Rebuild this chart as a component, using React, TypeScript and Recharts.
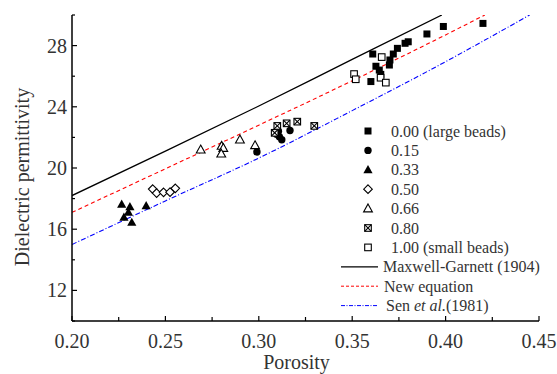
import React from "react";
import { ComposedChart, Line, Scatter, XAxis, YAxis, Legend } from "recharts";

type Pt = { x: number; y: number };

// axis ticks (minor + major)
const xTicks = [0.2, 0.225, 0.25, 0.275, 0.3, 0.325, 0.35, 0.375, 0.4, 0.425, 0.45];
const xMajor = [0.2, 0.25, 0.3, 0.35, 0.4, 0.45];
const yTicks = [10, 12, 14, 16, 18, 20, 22, 24, 26, 28, 30];
const yMajor = [12, 16, 20, 24, 28];

// measured points, one array per bead mixture
const beads000: Pt[] = [
  { x: 0.361, y: 27.45 }, { x: 0.36, y: 25.65 }, { x: 0.3627, y: 26.65 },
  { x: 0.3645, y: 26.4 }, { x: 0.3653, y: 26.12 }, { x: 0.3699, y: 26.73 },
  { x: 0.3702, y: 27.06 }, { x: 0.372, y: 27.45 }, { x: 0.3742, y: 27.82 },
  { x: 0.3783, y: 28.15 }, { x: 0.38, y: 28.25 }, { x: 0.39, y: 28.76 },
  { x: 0.3988, y: 29.25 }, { x: 0.42, y: 29.45 },
];
const beads015: Pt[] = [
  { x: 0.299, y: 21.05 }, { x: 0.3095, y: 22.2 }, { x: 0.3105, y: 22.4 },
  { x: 0.311, y: 22.05 }, { x: 0.3123, y: 21.85 }, { x: 0.3167, y: 22.45 },
];
const beads033: Pt[] = [
  { x: 0.2266, y: 17.63 }, { x: 0.231, y: 17.46 }, { x: 0.2397, y: 17.53 },
  { x: 0.2302, y: 17.1 }, { x: 0.2278, y: 16.77 }, { x: 0.232, y: 16.44 },
];
const beads050: Pt[] = [
  { x: 0.2432, y: 18.62 }, { x: 0.2453, y: 18.36 }, { x: 0.249, y: 18.41 },
  { x: 0.2525, y: 18.42 }, { x: 0.2553, y: 18.67 },
];
const beads066: Pt[] = [
  { x: 0.2689, y: 21.2 }, { x: 0.2801, y: 21.44 }, { x: 0.281, y: 21.3 },
  { x: 0.2799, y: 20.93 }, { x: 0.2899, y: 21.85 }, { x: 0.298, y: 21.48 },
];
const beads080: Pt[] = [
  { x: 0.3085, y: 22.3 }, { x: 0.3099, y: 22.75 }, { x: 0.3149, y: 22.92 },
  { x: 0.3206, y: 23.03 }, { x: 0.3297, y: 22.75 },
];
const beads100: Pt[] = [
  { x: 0.351, y: 26.14 }, { x: 0.3519, y: 25.8 }, { x: 0.3658, y: 27.25 },
  { x: 0.3652, y: 25.9 }, { x: 0.368, y: 25.58 },
];

// model curves
const maxwellGarnett: Pt[] = [
  { x: 0.2, y: 18.2 }, { x: 0.25, y: 21.1 }, { x: 0.3, y: 24.05 },
  { x: 0.35, y: 27.1 }, { x: 0.398, y: 30 },
];
const newEquation: Pt[] = [
  { x: 0.2, y: 17.1 }, { x: 0.25, y: 19.95 }, { x: 0.3, y: 22.8 },
  { x: 0.35, y: 25.7 }, { x: 0.4, y: 28.7 }, { x: 0.421, y: 30 },
];
const senEtAl: Pt[] = [
  { x: 0.2, y: 15.0 }, { x: 0.25, y: 17.85 }, { x: 0.3, y: 20.65 },
  { x: 0.35, y: 23.75 }, { x: 0.4, y: 26.95 }, { x: 0.445, y: 30 },
];

const pointNames = ["0.00 (large beads)", "0.15", "0.33", "0.50", "0.66", "0.80", "1.00 (small beads)"];
const pointKinds = ["square", "circle", "triangle", "diamond", "openTriangle", "crossSquare", "openSquare"];
const pointSets = [beads000, beads015, beads033, beads050, beads066, beads080, beads100];

const FONT = '"Liberation Serif", "Times New Roman", serif';
const TXT = "#333";

function Marker({ kind, cx, cy }: { kind: string; cx: number; cy: number }) {
  switch (kind) {
    case "square":
      return <rect x={cx - 3.5} y={cy - 3.5} width={7} height={7} fill="#000" />;
    case "circle":
      return <circle cx={cx} cy={cy} r={3.7} fill="#000" />;
    case "triangle":
      return <polygon points={`${cx},${cy - 4.8} ${cx + 4.6},${cy + 3.4} ${cx - 4.6},${cy + 3.4}`} fill="#000" />;
    case "diamond":
      return <polygon points={`${cx},${cy - 4.3} ${cx + 4.3},${cy} ${cx},${cy + 4.3} ${cx - 4.3},${cy}`} fill="#fff" stroke="#000" strokeWidth={1.1} />;
    case "openTriangle":
      return <polygon points={`${cx},${cy - 4.6} ${cx + 4.4},${cy + 3.3} ${cx - 4.4},${cy + 3.3}`} fill="#fff" stroke="#000" strokeWidth={1.1} />;
    case "crossSquare":
      return (
        <g stroke="#000" strokeWidth={1.1}>
          <rect x={cx - 3.3} y={cy - 3.3} width={6.6} height={6.6} fill="#fff" />
          <line x1={cx - 3.3} y1={cy - 3.3} x2={cx + 3.3} y2={cy + 3.3} />
          <line x1={cx + 3.3} y1={cy - 3.3} x2={cx - 3.3} y2={cy + 3.3} />
        </g>
      );
    default:
      return <rect x={cx - 3.3} y={cy - 3.3} width={6.6} height={6.6} fill="#fff" stroke="#000" strokeWidth={1.1} />;
  }
}

const isIn = (arr: number[], v: number) => arr.some((m) => Math.abs(m - v) < 1e-6);

const BottomTick = (props: any) => {
  const { x, y, payload } = props;
  const major = isIn(xMajor, payload.value);
  return (
    <g>
      <line x1={x} y1={y} x2={x} y2={y - (major ? 5 : 4)} stroke="#000" strokeWidth={1.2} />
      {major && (
        <text x={x} y={y + 27} textAnchor="middle" fontSize={20} fill={TXT} fontFamily={FONT}>
          {payload.value.toFixed(2)}
        </text>
      )}
    </g>
  );
};

const TopTick = (props: any) => {
  const { x, y, payload } = props;
  const major = isIn(xMajor, payload.value);
  return <line x1={x} y1={y} x2={x} y2={y + (major ? 3 : 2)} stroke="#000" strokeWidth={1.2} />;
};

const LeftTick = (props: any) => {
  const { x, y, payload } = props;
  const major = isIn(yMajor, payload.value);
  return (
    <g>
      <line x1={x} y1={y} x2={x + (major ? 5 : 3)} y2={y} stroke="#000" strokeWidth={1.2} />
      {major && (
        <text x={x - 5} y={y + 7} textAnchor="end" fontSize={20} fill={TXT} fontFamily={FONT}>
          {payload.value}
        </text>
      )}
    </g>
  );
};

const RightTick = (props: any) => {
  const { x, y, payload } = props;
  const major = isIn(yMajor, payload.value);
  return <line x1={x} y1={y} x2={x - (major ? 4 : 3)} y2={y} stroke="#000" strokeWidth={1.2} />;
};

const LegendBox = () => {
  const row = 19.4;
  return (
    <svg width={215} height={200} style={{ overflow: "visible" }}>
      {pointNames.map((name, i) => {
        const cy = 10 + i * row;
        return (
          <g key={name}>
            <Marker kind={pointKinds[i]} cx={33} cy={cy} />
            <text x={56} y={cy + 5.5} fontSize={16} fill={TXT} fontFamily={FONT}>{name}</text>
          </g>
        );
      })}
      <g>
        <line x1={6} x2={43} y1={10 + 7 * row} y2={10 + 7 * row} stroke="#000" strokeWidth={1.2} />
        <text x={48} y={10 + 7 * row + 5.5} fontSize={16} fill={TXT} fontFamily={FONT}>Maxwell-Garnett (1904)</text>
      </g>
      <g>
        <line x1={6} x2={43} y1={10 + 8 * row} y2={10 + 8 * row} stroke="#ff0000" strokeWidth={1} strokeDasharray="3 2" />
        <text x={49} y={10 + 8 * row + 5.5} fontSize={16} fill={TXT} fontFamily={FONT}>New equation</text>
      </g>
      <g>
        <line x1={6} x2={43} y1={10 + 9 * row} y2={10 + 9 * row} stroke="#0000ff" strokeWidth={1} strokeDasharray="4 1.5 1 1.5" />
        <text x={51} y={10 + 9 * row + 5.5} fontSize={16} fill={TXT} fontFamily={FONT}>
          Sen <tspan fontStyle="italic">et al.</tspan>(1981)
        </text>
      </g>
    </svg>
  );
};

export default function App() {
  return (
    <div style={{ position: "absolute", left: 0, top: 0, width: 557, height: 374, background: "#fff" }}>
      <ComposedChart
        width={557}
        height={374}
        margin={{ top: 15, right: 18, bottom: 0, left: 12 }}
        style={{ fontFamily: FONT }}
      >
        <XAxis
          dataKey="x"
          type="number"
          domain={[0.2, 0.45]}
          ticks={xTicks}
          allowDataOverflow
          height={53}
          tickSize={0}
          tickMargin={0}
          tickLine={false}
          axisLine={{ stroke: "#000", strokeWidth: 1.5 }}
          tick={BottomTick}
          interval={0}
          label={{
            content: (p: any) => (
              <text x={p.viewBox.x + p.viewBox.width / 2 - 9} y={p.viewBox.y + 48} textAnchor="middle" fontSize={20} fill={TXT} fontFamily={FONT}>
                Porosity
              </text>
            ),
          }}
        />
        <XAxis
          xAxisId="top"
          orientation="top"
          dataKey="x"
          type="number"
          domain={[0.2, 0.45]}
          ticks={xTicks}
          allowDataOverflow
          height={0}
          tickSize={0}
          tickMargin={0}
          tickLine={false}
          axisLine={{ stroke: "#000", strokeWidth: 1.5 }}
          tick={TopTick}
          interval={0}
        />
        <YAxis
          type="number"
          domain={[10, 30]}
          ticks={yTicks}
          allowDataOverflow
          width={60}
          tickSize={0}
          tickMargin={0}
          tickLine={false}
          axisLine={{ stroke: "#000", strokeWidth: 1.5 }}
          tick={LeftTick}
          interval={0}
          label={{
            content: (p: any) => {
              const lx = p.viewBox.x + 17;
              const ly = p.viewBox.y + p.viewBox.height / 2 + 9;
              return (
                <text x={lx} y={ly} transform={`rotate(-90 ${lx} ${ly})`} textAnchor="middle" fontSize={20} fill={TXT} fontFamily={FONT}>
                  Dielectric permittivity
                </text>
              );
            },
          }}
        />
        <YAxis
          yAxisId="right"
          orientation="right"
          type="number"
          domain={[10, 30]}
          ticks={yTicks}
          allowDataOverflow
          width={0}
          tickSize={0}
          tickMargin={0}
          tickLine={false}
          axisLine={{ stroke: "#000", strokeWidth: 1.5 }}
          tick={RightTick}
          interval={0}
        />
        <Line data={maxwellGarnett} dataKey="y" stroke="#000" strokeWidth={1.3} dot={false} activeDot={false} isAnimationActive={false} type="monotone" />
        <Line data={newEquation} dataKey="y" stroke="#ff0000" strokeWidth={1.1} strokeDasharray="4 3" dot={false} activeDot={false} isAnimationActive={false} type="monotone" />
        <Line data={senEtAl} dataKey="y" stroke="#0000ff" strokeWidth={1.1} strokeDasharray="5 2 1 2" dot={false} activeDot={false} isAnimationActive={false} type="monotone" />
        {pointSets.map((set, i) => (
          <Scatter
            key={pointNames[i]}
            name={pointNames[i]}
            data={set}
            dataKey="y"
            isAnimationActive={false}
            shape={(p: any) => <Marker kind={pointKinds[i]} cx={p.cx} cy={p.cy} />}
          />
        ))}
        <Legend
          layout="vertical"
          align="center"
          verticalAlign="middle"
          wrapperStyle={{ left: 335, top: 121, width: 215 }}
          content={() => <LegendBox />}
        />
      </ComposedChart>
    </div>
  );
}
